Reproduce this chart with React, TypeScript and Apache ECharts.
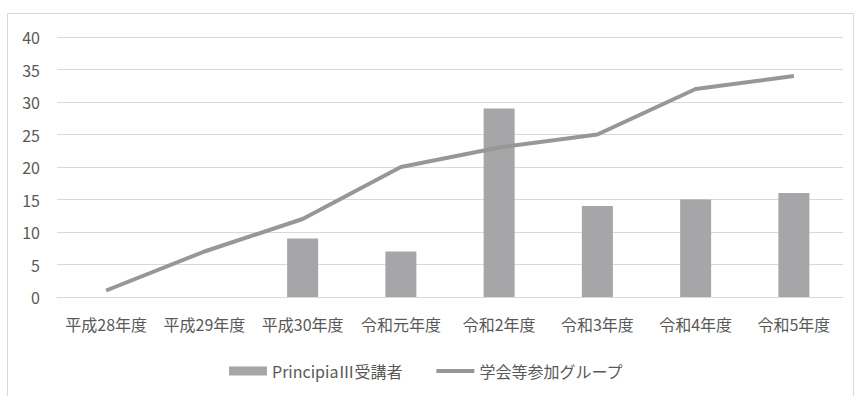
import React, { useEffect, useRef } from "react";
import * as echarts from "echarts";

const categories = ["平成28年度", "平成29年度", "平成30年度", "令和元年度", "令和2年度", "令和3年度", "令和4年度", "令和5年度"];
const principiaValues = [0, 0, 9, 7, 29, 14, 15, 16];
const groupValues = [1, 7, 12, 20, 23, 25, 32, 34];
const barName = "PrincipiaⅢ受講者";
const lineName = "学会等参加グループ";

const FONT = "'Noto Sans CJK JP', 'Noto Sans', sans-serif";
const TEXT = "#595959";

export default function App() {
  const ref = useRef<HTMLDivElement>(null);
  useEffect(() => {
    if (!ref.current) return;
    const chart = echarts.init(ref.current, null, { renderer: "svg" });
    chart.setOption({
      animation: false,
      backgroundColor: "#ffffff",
      textStyle: { fontFamily: FONT },
      graphic: [
        {
          type: "rect",
          shape: { x: 7.5, y: 13.5, width: 846, height: 400 },
          style: { fill: "none", stroke: "#d9d9d9", lineWidth: 1 },
          silent: true,
        },
      ],
      grid: { left: 57, right: 12, top: 37, bottom: 99, containLabel: false },
      legend: {
        left: 224,
        top: 358,
        itemWidth: 38,
        itemHeight: 9,
        itemGap: 34,
        textStyle: { color: TEXT, fontSize: 16, fontFamily: FONT },
        data: [
          { name: barName, icon: "rect" },
          { name: lineName, icon: "path://M0,0h38v4h-38z" },
        ],
      },
      xAxis: {
        type: "category",
        data: categories,
        axisLine: { show: true, lineStyle: { color: "#d9d9d9" } },
        axisTick: { show: false },
        axisLabel: { color: TEXT, fontSize: 16, margin: 19, fontFamily: FONT, interval: 0 },
      },
      yAxis: {
        type: "value",
        min: 0,
        max: 40,
        interval: 5,
        axisLine: { show: false },
        axisTick: { show: false },
        splitLine: { lineStyle: { color: "#d9d9d9" } },
        axisLabel: { color: TEXT, fontSize: 16, margin: 17, fontFamily: FONT },
      },
      series: [
        {
          name: barName,
          type: "bar",
          data: principiaValues,
          barWidth: 31,
          itemStyle: { color: "#a6a6a8" },
        },
        {
          name: lineName,
          type: "line",
          data: groupValues,
          symbol: "none",
          showSymbol: false,
          lineStyle: { color: "#979797", width: 4 },
          itemStyle: { color: "#979797" },
        },
      ],
    });
    return () => chart.dispose();
  }, []);
  return (
    <div style={{ position: "fixed", left: 0, top: 0, width: 855, height: 396, background: "#fff" }}>
      <div ref={ref} style={{ width: 855, height: 396 }} />
    </div>
  );
}
